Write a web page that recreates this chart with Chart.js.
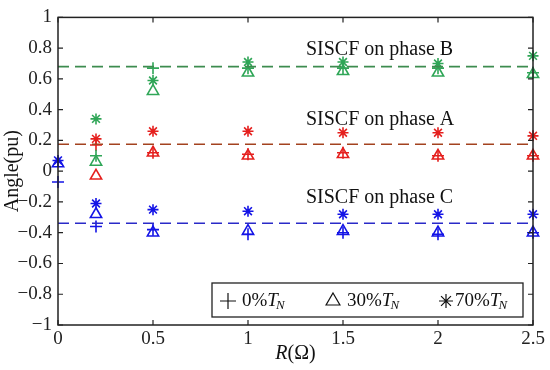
<!DOCTYPE html>
<html>
<head>
<meta charset="utf-8">
<script src="https://cdn.jsdelivr.net/npm/chart.js@4/dist/chart.umd.min.js"></script>
<style>
html,body{margin:0;padding:0;background:#fff;}
#wrap{width:550px;height:370px;position:relative;}
</style>
</head>
<body>
<div id="wrap"><canvas id="c" width="550" height="370"></canvas></div>
<script>
// ---- data ----
const R = [0, 0.2, 0.5, 1, 1.5, 2, 2.5];
const phaseA_0  = [null, 0.17, 0.12, 0.11, 0.12, 0.10, 0.10];
const phaseA_30 = [null, -0.03, 0.12, 0.10, 0.11, 0.10, 0.10];
const phaseA_70 = [null, 0.21, 0.26, 0.26, 0.25, 0.25, 0.23];
const phaseB_0  = [null, 0.10, 0.67, 0.67, 0.67, 0.67, 0.64];
const phaseB_30 = [null, 0.06, 0.52, 0.64, 0.65, 0.64, 0.63];
const phaseB_70 = [null, 0.34, 0.59, 0.71, 0.71, 0.70, 0.75];
const phaseC_0  = [-0.07, -0.36, -0.38, -0.41, -0.40, -0.41, -0.40];
const phaseC_30 = [0.05, -0.28, -0.40, -0.39, -0.39, -0.40, -0.40];
const phaseC_70 = [0.07, -0.21, -0.25, -0.26, -0.28, -0.28, -0.28];
const meanA = 0.175, meanB = 0.68, meanC = -0.338;
const xTicks = [0, 0.5, 1, 1.5, 2, 2.5];
const yTicks = [1, 0.8, 0.6, 0.4, 0.2, 0, -0.2, -0.4, -0.6, -0.8, -1];
const annotations = [
  {text: 'SISCF on phase B', x: 1.305, y: 0.79},
  {text: 'SISCF on phase A', x: 1.305, y: 0.335},
  {text: 'SISCF on phase C', x: 1.305, y: -0.17}
];

const GREEN = '#2fa657', RED = '#e5201e', BLUE = '#1414e6';
const GREEN_L = '#3d8c4f', RED_L = '#a3421f', BLUE_L = '#2a2ac8';
const FONT = '"Liberation Serif", "Times New Roman", serif';

function pts(vals){ return R.map((x,i)=>vals[i]===null?null:{x:x,y:vals[i]}).filter(p=>p); }
function markerSet(vals, color, style, r){
  return {type:'scatter', data: pts(vals), showLine:false, pointStyle: style,
    pointRadius: r, pointHoverRadius: r, borderColor: color, backgroundColor: 'rgba(0,0,0,0)',
    pointBorderWidth: 1.6, clip: false};
}
function meanLine(v, color){
  return {type:'line', data:[{x:0,y:v},{x:2.5,y:v}], borderColor: color, borderWidth: 1.6,
    borderDash:[11,6], pointRadius:0, fill:false, clip:false};
}

const datasets = [
  meanLine(meanB, GREEN_L), meanLine(meanA, RED_L), meanLine(meanC, BLUE_L),
  markerSet(phaseB_0, GREEN, 'cross', 6), markerSet(phaseB_30, GREEN, 'triangle', 6.5), markerSet(phaseB_70, GREEN, 'star', 5.5),
  markerSet(phaseA_0, RED, 'cross', 6), markerSet(phaseA_30, RED, 'triangle', 6.5), markerSet(phaseA_70, RED, 'star', 5.5),
  markerSet(phaseC_0, BLUE, 'cross', 6), markerSet(phaseC_30, BLUE, 'triangle', 6.5), markerSet(phaseC_70, BLUE, 'star', 5.5)
];

const framePlugin = {
  id: 'frame',
  afterDatasetsDraw(chart){
    const ctx = chart.ctx, a = chart.chartArea;
    const xs = chart.scales.x, ys = chart.scales.y;
    ctx.save();
    ctx.strokeStyle = '#222'; ctx.lineWidth = 1.5;
    ctx.strokeRect(a.left, a.top, a.right-a.left, a.bottom-a.top);
    ctx.lineWidth = 1.2;
    const tl = 5;
    xTicks.forEach(v=>{ const px = xs.getPixelForValue(v);
      ctx.beginPath(); ctx.moveTo(px,a.bottom); ctx.lineTo(px,a.bottom-tl);
      ctx.moveTo(px,a.top); ctx.lineTo(px,a.top+tl); ctx.stroke(); });
    yTicks.forEach(v=>{ const py = ys.getPixelForValue(v);
      ctx.beginPath(); ctx.moveTo(a.left,py); ctx.lineTo(a.left+tl,py);
      ctx.moveTo(a.right,py); ctx.lineTo(a.right-tl,py); ctx.stroke(); });
    // annotations
    ctx.fillStyle = '#111'; ctx.font = '20px ' + FONT;
    ctx.textBaseline = 'middle'; ctx.textAlign = 'left';
    annotations.forEach(t=>{ ctx.fillText(t.text, xs.getPixelForValue(t.x), ys.getPixelForValue(t.y)); });
    // axis titles
    const cx = (a.left + a.right)/2;
    ctx.font = 'italic 20px ' + FONT;
    const wR = ctx.measureText('R').width;
    ctx.font = '20px ' + FONT;
    const wRest = ctx.measureText('(Ω)').width;
    let sx = cx - (wR + wRest)/2;
    ctx.font = 'italic 20px ' + FONT; ctx.fillText('R', sx, 354);
    ctx.font = '20px ' + FONT; ctx.fillText('(Ω)', sx + wR, 354);
    ctx.save();
    ctx.translate(13, (a.top + a.bottom)/2);
    ctx.rotate(-Math.PI/2);
    ctx.textAlign = 'center';
    ctx.fillText('Angle(pu)', 0, 0);
    ctx.restore();
    // legend
    const lx = 212, ly = 283, lw = 311, lh = 34, my = ly + lh/2;
    ctx.fillStyle = '#fff'; ctx.fillRect(lx, ly, lw, lh);
    ctx.strokeStyle = '#222'; ctx.lineWidth = 1.3; ctx.strokeRect(lx, ly, lw, lh);
    ctx.strokeStyle = '#111'; ctx.lineWidth = 1.2;
    const items = [{style:'cross', mx:228, tx:242, label:'0%'},
                   {style:'triangle', mx:333, tx:347, label:'30%'},
                   {style:'star', mx:446, tx:455, label:'70%'}];
    items.forEach(it=>{
      ctx.fillStyle = '#fff';
      Chart.helpers.drawPoint(ctx, {pointStyle: it.style, radius: it.style==='star'?7:8, borderWidth:1.2}, it.mx, my + 1);
      ctx.fillStyle = '#111';
      ctx.font = '19px ' + FONT; ctx.textAlign = 'left';
      ctx.fillText(it.label, it.tx, my + 1);
      let w = ctx.measureText(it.label).width;
      ctx.font = 'italic 19px ' + FONT;
      ctx.fillText('T', it.tx + w, my + 1);
      let wT = ctx.measureText('T').width;
      ctx.font = 'italic 13px ' + FONT;
      ctx.fillText('N', it.tx + w + wT - 2, my + 6);
    });
    ctx.restore();
  }
};

new Chart(document.getElementById('c'), {
  type: 'scatter',
  data: { datasets },
  options: {
    responsive: false, animation: false,
    layout: { padding: { top: 13, right: 17, left: 0, bottom: 0 } },
    plugins: { legend: { display: false }, tooltip: { enabled: false } },
    scales: {
      x: { type: 'linear', min: 0, max: 2.5,
        afterFit(s){ s.height = 45; },
        afterBuildTicks(s){ s.ticks = xTicks.map(v=>({value:v})); },
        grid: { display: false, drawTicks: false }, border: { display: false },
        ticks: { padding: 3, color: '#222', font: { family: FONT, size: 19 },
          callback: v => String(v) } },
      y: { type: 'linear', min: -1, max: 1,
        afterFit(s){ s.width = 58; },
        afterBuildTicks(s){ s.ticks = yTicks.map(v=>({value:v})); },
        grid: { display: false, drawTicks: false }, border: { display: false },
        ticks: { padding: 6, color: '#222', font: { family: FONT, size: 19 },
          callback: v => (Math.round(v*10)/10).toString().replace('-', '\u2212') } }
    }
  },
  plugins: [framePlugin]
});
</script>
</body>
</html>
